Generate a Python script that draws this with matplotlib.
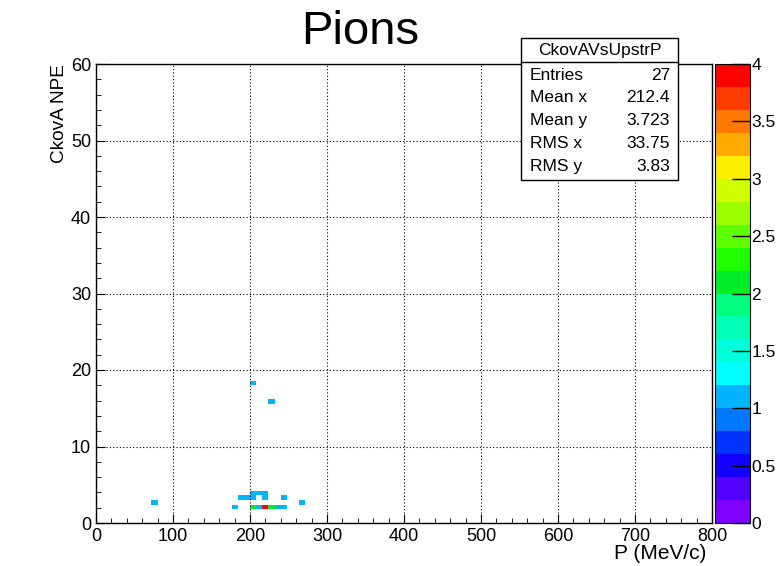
import numpy as np
import matplotlib
matplotlib.use("Agg")
import matplotlib.pyplot as plt
from matplotlib.colors import ListedColormap
from matplotlib.patches import Rectangle

# Filled bins of the CkovA vs upstream momentum histogram (bin centres, counts)
cell_p = [180, 204, 212, 220, 228, 236, 244,
          76, 268,
          188, 196, 204, 220, 244,
          204, 212, 220,
          204, 228]
cell_npe = [2.1, 2.1, 2.1, 2.1, 2.1, 2.1, 2.1,
            2.7, 2.7,
            3.3, 3.3, 3.3, 3.3, 3.3,
            3.9, 3.9, 3.9,
            18.3, 15.9]
cell_counts = [1, 2, 1, 4, 2, 1, 1,
               1, 1,
               1, 1, 1, 1, 1,
               1, 1, 1,
               1, 1]

stat_names = ["Entries", "Mean x", "Mean y", "RMS x", "RMS y"]
stat_values = ["27", "212.4", "3.723", "33.75", "3.83"]

# old ROOT rainbow palette, 20 contour levels (bottom -> top)
PALETTE = ["#8000ff", "#5000ff", "#1400ff", "#0032ff", "#0078ff",
           "#00b4ff", "#00ffff", "#00ffdc", "#00ffb4", "#00ff80",
           "#00eb28", "#20ff00", "#60ff00", "#9cff00", "#d0ff00",
           "#ffee00", "#ffaa00", "#ff7800", "#ff3c00", "#ff0000"]

plt.rcParams["font.family"] = ["Liberation Sans", "DejaVu Sans"]

fig = plt.figure(figsize=(7.76, 5.66), dpi=100)
ax = fig.add_axes([96 / 776, 43 / 566, 616 / 776, 459 / 566])
cax = fig.add_axes([715 / 776, 43 / 566, 35 / 776, 459 / 566])

cmap = ListedColormap(PALETTE)
h = ax.hist2d(cell_p, cell_npe, bins=[100, 100], range=[[0, 800], [0, 60]],
              weights=cell_counts, cmap=cmap, vmin=0, vmax=4, cmin=0.5,
              zorder=1)

# axes cosmetics, ROOT style
ax.set_xlim(0, 800)
ax.set_ylim(0, 60)
ax.set_xticks(np.arange(0, 801, 100))
ax.set_xticks(np.arange(0, 801, 20), minor=True)
ax.set_yticks(np.arange(0, 61, 10))
ax.set_yticks(np.arange(0, 61, 2), minor=True)
ax.tick_params(which="both", direction="in", labelsize=13)
ax.tick_params(which="major", length=6.5)
ax.tick_params(which="minor", length=3.5)
ax.grid(True, which="major", linestyle=(0, (1, 2)), color="black",
        linewidth=0.8, zorder=3)
ax.set_axisbelow(False)
for sp in ax.spines.values():
    sp.set_linewidth(1.0)

ax.set_xlabel("P (MeV/c)", fontsize=15, loc="right")
ax.xaxis.set_label_coords(1 - 6 / 616, -0.045)
ax.set_ylabel("CkovA NPE", fontsize=13.7, loc="top")
ax.yaxis.set_label_coords(-0.046, 1.0)

fig.text(360 / 776, 1 - 32 / 566, "Pions", fontsize=34,
         ha="center", va="center")

# palette axis
cb = fig.colorbar(h[3], cax=cax, ticks=np.arange(0, 4.01, 0.5))
cb.ax.set_yticklabels(["0", "0.5", "1", "1.5", "2", "2.5", "3", "3.5", "4"])
cb.ax.tick_params(direction="in", length=13, width=1.0, labelsize=12.5, pad=1)
cb.outline.set_linewidth(0.8)

# statistics box
x0, x1 = 521 / 776, 678 / 776
y_top, y_sep, y_bot = 1 - 38 / 566, 1 - 62 / 566, 1 - 180 / 566
fig.patches.append(Rectangle((x0, y_bot), x1 - x0, y_top - y_bot,
                             transform=fig.transFigure, facecolor="white",
                             edgecolor="black", linewidth=1.0, zorder=5))
fig.lines.append(plt.Line2D([x0, x1], [y_sep, y_sep], transform=fig.transFigure,
                            color="black", linewidth=1.0, zorder=6))
fig.text((x0 + x1) / 2, 1 - 50 / 566, "CkovAVsUpstrP", fontsize=12.5,
         ha="center", va="center", zorder=7)
for i, (name, val) in enumerate(zip(stat_names, stat_values)):
    yy = 1 - (75 + 22.8 * i) / 566
    fig.text(530 / 776, yy, name, fontsize=12.5, ha="left", va="center", zorder=7)
    fig.text(670 / 776, yy, val, fontsize=12.5, ha="right", va="center", zorder=7)

fig.savefig("out.png", dpi=100)
